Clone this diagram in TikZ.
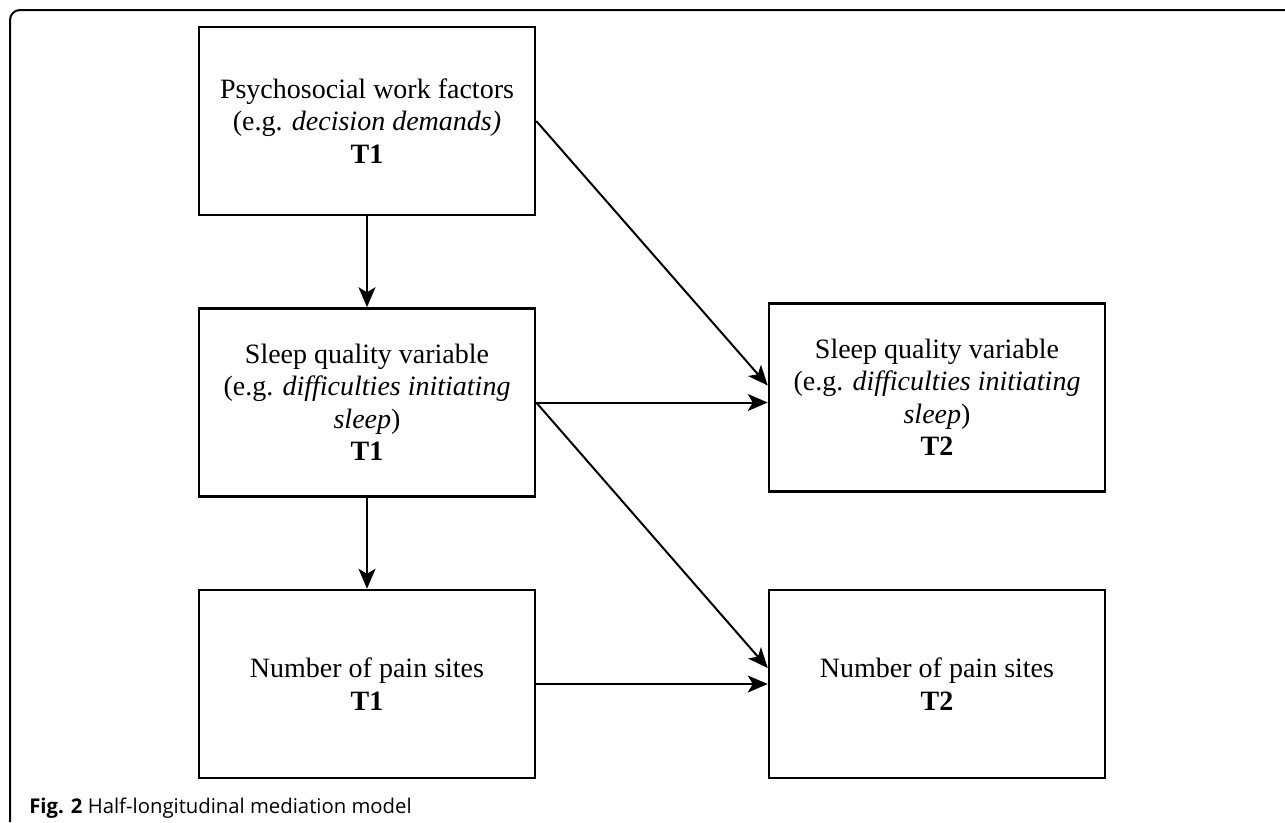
\documentclass[tikz,border=0pt]{standalone}
\usepackage{fontspec}
\setmainfont{Liberation Serif}
\newfontfamily\capfont{Open Sans}
\usetikzlibrary{arrows.meta,positioning}

\begin{document}
\begin{tikzpicture}[x=1pt,y=-1pt,->,>={Stealth[length=20pt,width=17pt,inset=5pt]},
                    line width=2pt,node distance=281.5pt]
  \tikzstyle{var}=[draw,line width=2.5pt,align=center,minimum width=336pt,
                   minimum height=188pt,font=\fontsize{28}{32.5}\selectfont]

  \useasboundingbox (0,0) rectangle (1285,822);
  \draw[-,line width=2pt,rounded corners=10pt] (10,822) -- (10,10) -- (1285,10);

  \node[var] (a) at (367,121)
       {Psychosocial work factors\\(e.g. \textit{decision demands)}\\\textbf{T1}};
  \node[var] (b) [below of=a]
       {Sleep quality variable\\(e.g. \textit{difficulties initiating}\\\textit{sleep})\\\textbf{T1}};
  \node[var] (c) [below of=b]
       {Number of pain sites\\\textbf{T1}};
  \node[var] (d) [right of=b,node distance=570pt,yshift=5pt]
       {Sleep quality variable\\(e.g. \textit{difficulties initiating}\\\textit{sleep})\\\textbf{T2}};
  \node[var] (e) [right of=c,node distance=570pt]
       {Number of pain sites\\\textbf{T2}};

  \path (a.east) edge ([yshift=12pt]d.west)
        (a) edge (b)
        (b) edge (c)
        (b.east) edge (b.east -| d.west)
        (b.east) edge ([yshift=16pt]e.west)
        (c.east) edge (e.west);

  \node[anchor=base west,font=\capfont\fontsize{20.3}{24}\selectfont] (cap) at (25,813)
       {\textbf{Fig. 2} Half-longitudinal mediation model};
\end{tikzpicture}
\end{document}
